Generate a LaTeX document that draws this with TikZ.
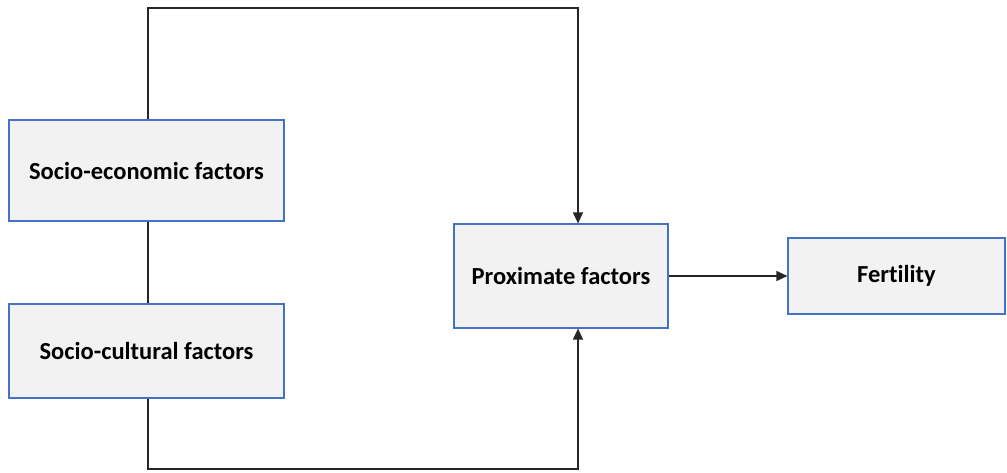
\documentclass[tikz,border=0pt]{standalone}
\usepackage{fontspec}
\setmainfont[Ligatures=NoCommon]{Carlito}
\usetikzlibrary{arrows.meta}
\definecolor{boxfill}{HTML}{F2F2F2}
\definecolor{boxline}{HTML}{4472C4}
\begin{document}
\begin{tikzpicture}[x=1pt,y=-1pt,
  box/.style={draw=boxline,line width=1.2pt,fill=boxfill,font=\bfseries\fontsize{24.5}{29}\selectfont,inner sep=0pt},
  conn/.style={draw=black!85,line width=1.4pt},
  arr/.style={conn,-{Triangle[length=11pt,width=10pt]}}]
\useasboundingbox (0,0) rectangle (1007,472);
\node[box,minimum width=275pt,minimum height=101pt] (se) at (146.5,170.5) {Socio-economic factors};
\node[box,minimum width=275pt,minimum height=94pt] (sc) at (146.5,351) {Socio-cultural factors};
\node[box,minimum width=214pt,minimum height=104pt] (pf) at (561,276) {Proximate factors};
\node[box,minimum width=217pt,minimum height=76pt] (fe) at (896.5,276) {Fertility};
\coordinate (tl) at (148,8);
\coordinate (tr) at (578,8);
\coordinate (bl) at (148,469);
\coordinate (br) at (578,469);
\draw[conn] (se.south -| tl) -- (sc.north -| tl);
\draw[arr] (se.north -| tl) -- (tl) -- (tr) -- (pf.north -| tr);
\draw[arr] (sc.south -| bl) -- (bl) -- (br) -- (pf.south -| br);
\draw[arr] (pf.east) -- (fe.west);
\end{tikzpicture}
\end{document}
